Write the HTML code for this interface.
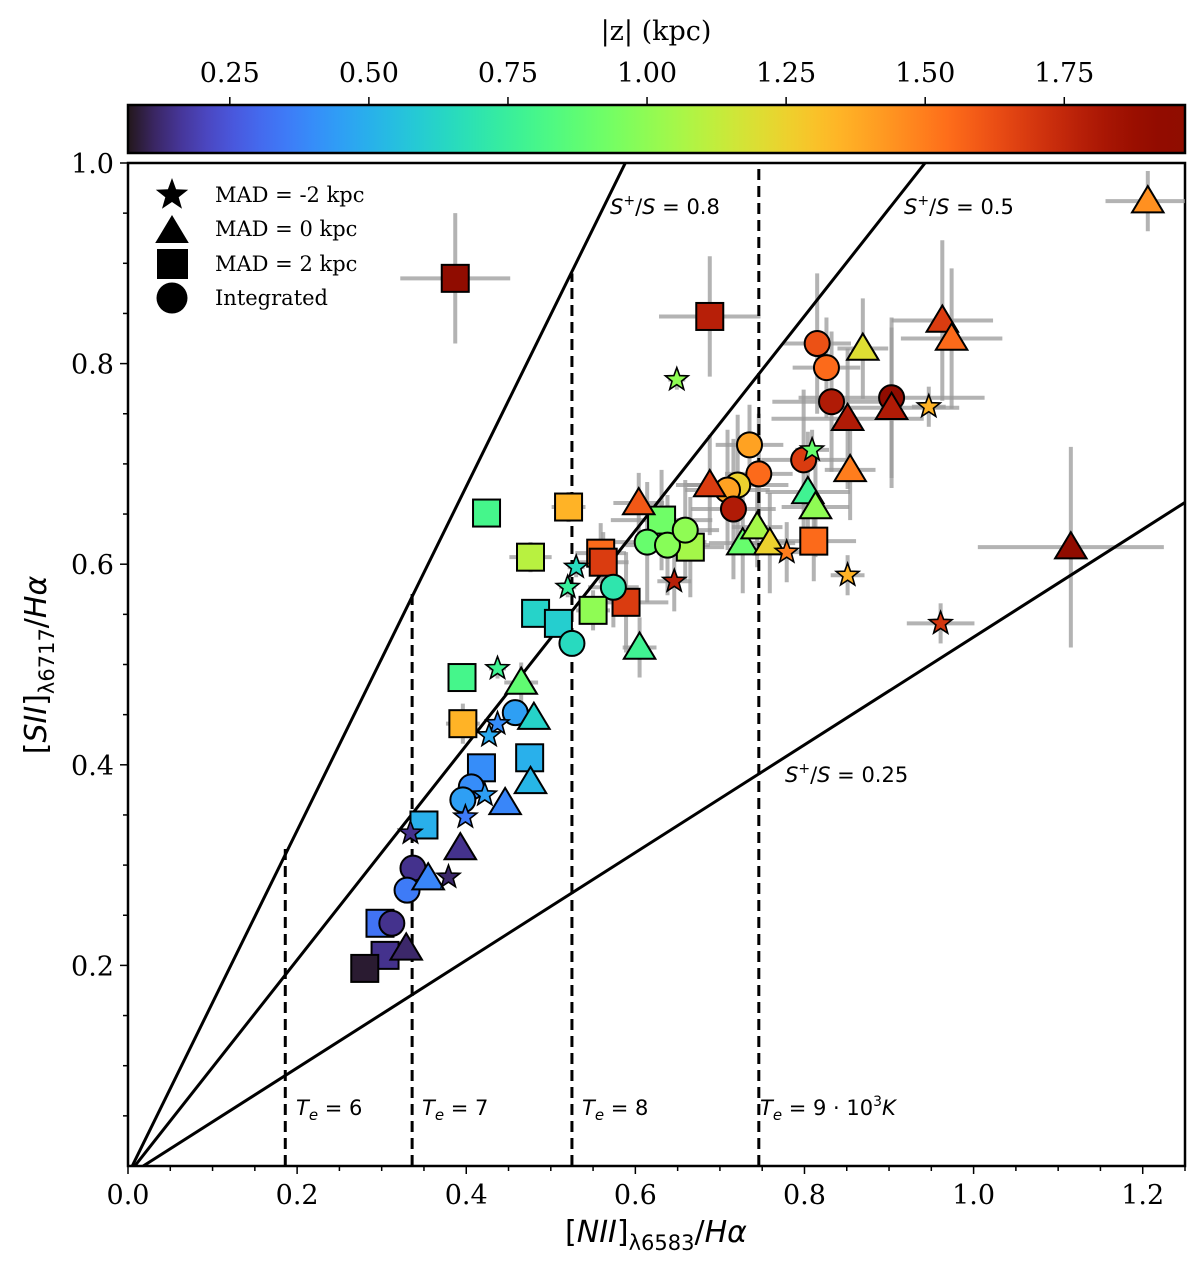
<!DOCTYPE html>
<html><head><meta charset="utf-8">
<style>
html,body{margin:0;padding:0;background:#fff;}
svg{display:block;}
.tk{font-family:"DejaVu Serif","Liberation Serif",serif;font-size:27px;fill:#000;}
.ann{font-family:"DejaVu Sans","Liberation Sans",sans-serif;font-size:21px;fill:#000;}
.leg{font-family:"DejaVu Serif","Liberation Serif",serif;font-size:21px;fill:#000;}
</style></head>
<body>
<svg id="chart" width="1200" height="1262" viewBox="0 0 1200 1262" xmlns="http://www.w3.org/2000/svg">
<defs>
<linearGradient id="turboGrad" x1="0" x2="1" y1="0" y2="0"></linearGradient>
<clipPath id="plotClip"><rect x="128" y="163" width="1057" height="1003"/></clipPath>
</defs>
<g id="colorbar">
<rect x="128" y="105" width="1057" height="48" fill="url(#turboGrad)" stroke="#000" stroke-width="2.5"/>
<text class="tk" x="656" y="40" text-anchor="middle" font-size="30">|z| (kpc)</text>
</g>
<g id="cbticks"></g>
<g id="axes"></g>
<g id="errs" clip-path="url(#plotClip)"></g>
<g id="refLines" clip-path="url(#plotClip)"></g>
<g id="marks"></g>
<g id="labels">
<text class="ann" x="610" y="214"><tspan font-style="italic">S</tspan><tspan font-size="14" dy="-9">+</tspan><tspan dy="9">/</tspan><tspan font-style="italic">S</tspan> = 0.8</text>
<text class="ann" x="904" y="214"><tspan font-style="italic">S</tspan><tspan font-size="14" dy="-9">+</tspan><tspan dy="9">/</tspan><tspan font-style="italic">S</tspan> = 0.5</text>
<text class="ann" x="785" y="782"><tspan font-style="italic">S</tspan><tspan font-size="14" dy="-9">+</tspan><tspan dy="9">/</tspan><tspan font-style="italic">S</tspan> = 0.25</text>
<text class="ann" x="296" y="1115"><tspan font-style="italic">T</tspan><tspan font-style="italic" font-size="15" dy="5">e</tspan><tspan dy="-5"> = 6</tspan></text>
<text class="ann" x="422" y="1115"><tspan font-style="italic">T</tspan><tspan font-style="italic" font-size="15" dy="5">e</tspan><tspan dy="-5"> = 7</tspan></text>
<text class="ann" x="582" y="1115"><tspan font-style="italic">T</tspan><tspan font-style="italic" font-size="15" dy="5">e</tspan><tspan dy="-5"> = 8</tspan></text>
<text class="ann" x="760" y="1115"><tspan font-style="italic">T</tspan><tspan font-style="italic" font-size="15" dy="5">e</tspan><tspan dy="-5"> = 9 · 10</tspan><tspan font-size="14" dy="-9">3</tspan><tspan dy="9" font-style="italic">K</tspan></text>
<text font-family="'DejaVu Sans','Liberation Sans',sans-serif" font-size="30" x="656" y="1242" text-anchor="middle">[<tspan font-style="italic">NII</tspan>]<tspan font-size="21" dy="8">λ6583</tspan><tspan dy="-8">/</tspan><tspan font-style="italic">Hα</tspan></text>
<text font-family="'DejaVu Sans','Liberation Sans',sans-serif" font-size="30" transform="translate(46,665) rotate(-90)" text-anchor="middle">[<tspan font-style="italic">SII</tspan>]<tspan font-size="21" dy="8">λ6717</tspan><tspan dy="-8">/</tspan><tspan font-style="italic">Hα</tspan></text>
</g>
<g id="legend"></g>
</svg>
<script>
// ---- data ----
const zMin = 0.067, zMax = 1.967;
const xTicks = [0.0, 0.2, 0.4, 0.6, 0.8, 1.0, 1.2];
const xTickLabels = ["0.0","0.2","0.4","0.6","0.8","1.0","1.2"];
const yTicks = [0.2, 0.4, 0.6, 0.8, 1.0];
const yTickLabels = ["0.2","0.4","0.6","0.8","1.0"];
const cbTicks = [0.25, 0.5, 0.75, 1.0, 1.25, 1.5, 1.75];
const cbTickLabels = ["0.25","0.50","0.75","1.00","1.25","1.50","1.75"];
const ratioSlopes = [1.715, 1.07, 0.537];
const ratioOffsets = [0.005, 0.008, 0.018];
const teX = [0.186, 0.336, 0.525, 0.746];
const teTop = [0.316, 0.571, 0.89, 1.0];

const sqX = [0.387,0.688,0.424,0.476,0.521,0.559,0.562,0.589,0.550,0.482,0.509,0.631,0.665,0.811,0.395,0.396,0.418,0.475,0.350,0.298,0.304,0.280];
const sqY = [0.885,0.847,0.651,0.607,0.657,0.611,0.602,0.562,0.554,0.551,0.541,0.644,0.617,0.623,0.487,0.441,0.397,0.407,0.340,0.242,0.210,0.197];
const sqZ = [1.95,1.78,0.80,1.10,1.35,1.55,1.68,1.68,1.00,0.62,0.60,0.92,1.05,1.55,0.80,1.35,0.40,0.50,0.50,0.33,0.15,0.08];
const sqXe = [0.065,0.06,0.01,0.025,0.02,0.03,0.03,0.05,0.02,0.01,0.01,0.06,0.04,0.05,0.01,0.02,0.01,0.01,0.01,0.005,0.005,0.005];
const sqYe = [0.065,0.06,0.01,0.015,0.015,0.03,0.03,0.05,0.02,0.01,0.01,0.05,0.05,0.04,0.01,0.02,0.01,0.01,0.01,0.005,0.005,0.005];

const triX = [0.604,0.605,0.688,0.727,0.744,0.759,0.804,0.813,0.854,0.869,0.851,0.903,0.963,0.974,1.206,1.115,0.465,0.480,0.476,0.446,0.393,0.355,0.329];
const triY = [0.661,0.517,0.679,0.621,0.637,0.621,0.672,0.657,0.694,0.815,0.745,0.756,0.843,0.825,0.962,0.617,0.482,0.447,0.383,0.362,0.317,0.287,0.217];
const triZ = [1.60,0.78,1.68,0.90,1.05,1.25,0.78,1.00,1.50,1.20,1.80,1.80,1.68,1.55,1.45,1.95,0.88,0.62,0.52,0.38,0.15,0.38,0.12];
const triXe = [0.03,0.02,0.04,0.04,0.03,0.03,0.05,0.04,0.03,0.03,0.09,0.08,0.06,0.06,0.05,0.11,0.02,0.01,0.01,0.01,0.005,0.005,0.005];
const triYe = [0.03,0.03,0.05,0.05,0.04,0.05,0.06,0.05,0.05,0.05,0.07,0.08,0.08,0.07,0.03,0.1,0.02,0.01,0.01,0.01,0.005,0.005,0.005];

const cirX = [0.735,0.746,0.721,0.709,0.716,0.799,0.815,0.826,0.832,0.903,0.614,0.638,0.659,0.574,0.525,0.458,0.406,0.396,0.337,0.330,0.312];
const cirY = [0.719,0.690,0.679,0.674,0.655,0.704,0.820,0.796,0.762,0.766,0.622,0.619,0.634,0.577,0.521,0.452,0.378,0.365,0.297,0.275,0.242];
const cirZ = [1.40,1.55,1.25,1.40,1.80,1.68,1.62,1.55,1.80,1.95,0.90,0.98,1.00,0.70,0.65,0.45,0.40,0.45,0.15,0.35,0.15];
const cirXe = [0.04,0.04,0.06,0.05,0.05,0.05,0.04,0.04,0.07,0.11,0.07,0.05,0.04,0.03,0.01,0.01,0.01,0.01,0.005,0.005,0.005];
const cirYe = [0.04,0.06,0.07,0.06,0.07,0.07,0.07,0.05,0.07,0.08,0.06,0.05,0.05,0.04,0.01,0.01,0.01,0.01,0.005,0.005,0.005];

const stX = [0.649,0.530,0.520,0.646,0.779,0.851,0.809,0.947,0.961,0.437,0.437,0.427,0.422,0.399,0.379,0.334];
const stY = [0.784,0.597,0.577,0.583,0.612,0.589,0.714,0.757,0.541,0.496,0.441,0.429,0.370,0.348,0.288,0.332];
const stZ = [1.00,0.65,0.75,1.78,1.50,1.35,0.90,1.35,1.70,0.78,0.40,0.48,0.45,0.35,0.12,0.15];
const stXe = [0.01,0.01,0.01,0.02,0.02,0.02,0.02,0.02,0.04,0.01,0.005,0.005,0.005,0.005,0.005,0.005];
const stYe = [0.01,0.01,0.01,0.03,0.03,0.02,0.02,0.02,0.02,0.01,0.005,0.005,0.005,0.005,0.005,0.005];

const legendLabels = ["MAD = -2 kpc","MAD = 0 kpc","MAD = 2 kpc","Integrated"];

// ---- scales ----
const X0 = 128, X1 = 1185, Y0 = 1166, Y1 = 163;
const xMin = 0, xMax = 1.25, yMin = 0, yMax = 1.0;
function sx(v){ return X0 + (v - xMin) / (xMax - xMin) * (X1 - X0); }
function sy(v){ return Y0 - (v - yMin) / (yMax - yMin) * (Y0 - Y1); }
function sz(v){ return X0 + (v - zMin) / (zMax - zMin) * (X1 - X0); }
function turbo(t){
  t = Math.max(0, Math.min(1, t));
  const r = 0.13572138 + t*(4.61539260 + t*(-42.66032258 + t*(132.13108234 + t*(-152.94239396 + t*59.28637943))));
  const g = 0.09140261 + t*(2.19418839 + t*(4.84296658 + t*(-14.18503333 + t*(4.27729857 + t*2.82956604))));
  const b = 0.10667330 + t*(12.64194608 + t*(-60.58204836 + t*(110.36276771 + t*(-89.90310912 + t*27.34824973))));
  const c = v => Math.round(Math.max(0, Math.min(1, v)) * 255);
  return `rgb(${c(r)},${c(g)},${c(b)})`;
}
function zc(z){ return turbo((z - zMin) / (zMax - zMin)); }
const NS = "http://www.w3.org/2000/svg";
function mk(tag, attrs, parent){
  const e = document.createElementNS(NS, tag);
  for (const k in attrs) e.setAttribute(k, attrs[k]);
  parent.appendChild(e);
  return e;
}

// gradient
const grad = document.getElementById('turboGrad');
for (let i = 0; i <= 40; i++){ mk('stop', {offset: (i/40), 'stop-color': turbo(i/40)}, grad); }

// colorbar ticks
const cbg = document.getElementById('cbticks');
cbTicks.forEach((v, i) => {
  const x = sz(v);
  const t = mk('line', {x1:x, x2:x, y1:105, y2:97, stroke:'#000', 'stroke-width':1.5}, cbg);
  
  
  const l = mk('text', {x:x, y:82, 'text-anchor':'middle', class:'tk'}, cbg);
  l.textContent = cbTickLabels[i];
  
  
});

// axes
const ax = document.getElementById('axes');
const frame = mk('rect', {x:X0, y:Y1, width:X1-X0, height:Y0-Y1, fill:'none', stroke:'#000', 'stroke-width':2.5}, ax);


for (let v = 0; v <= 1.2501; v += 0.05){
  const x = sx(v);
  const major = Math.abs(v/0.2 - Math.round(v/0.2)) < 1e-6;
  const t = mk('line', {x1:x, x2:x, y1:Y0, y2:Y0 + (major ? 8 : 5), stroke:'#000', 'stroke-width':1.5}, ax);
  
  
}
xTicks.forEach((v, i) => {
  const l = mk('text', {x:sx(v), y:1204, 'text-anchor':'middle', class:'tk'}, ax);
  l.textContent = xTickLabels[i];
  
  
});
for (let v = 0.05; v <= 1.0001; v += 0.05){
  const y = sy(v);
  const major = Math.abs(v/0.2 - Math.round(v/0.2)) < 1e-6;
  const t = mk('line', {x1:X0, x2:X0 - (major ? 8 : 5), y1:y, y2:y, stroke:'#000', 'stroke-width':1.5}, ax);
  
  
}
yTicks.forEach((v, i) => {
  const l = mk('text', {x:114, y:sy(v) + 10, 'text-anchor':'end', class:'tk'}, ax);
  l.textContent = yTickLabels[i];
  
  
});

// reference lines
const rl = document.getElementById('refLines');
ratioSlopes.forEach((s, i) => {
  const x0 = ratioOffsets[i], x1 = 1.3;
  const ln = mk('line', {x1:sx(x0), y1:sy(0), x2:sx(x1), y2:sy(s*(x1-x0)), stroke:'#000', 'stroke-width':3}, rl);
  
  
});
teX.forEach((v, i) => {
  const ln = mk('line', {x1:sx(v), x2:sx(v), y1:sy(0), y2:sy(teTop[i]), stroke:'#000', 'stroke-width':3, 'stroke-dasharray':'11,6'}, rl);
  
  
});

// error bars
const eg = document.getElementById('errs');
function errs(xs, ys, xe, ye){
  xs.forEach((x, i) => {
    const a = mk('line', {x1:sx(x - xe[i]), x2:sx(x + xe[i]), y1:sy(ys[i]), y2:sy(ys[i]), stroke:'#999', 'stroke-width':4, 'stroke-opacity':0.75}, eg);
    
    
    const b = mk('line', {x1:sx(x), x2:sx(x), y1:sy(ys[i] - ye[i]), y2:sy(ys[i] + ye[i]), stroke:'#999', 'stroke-width':4, 'stroke-opacity':0.75}, eg);
    
    
  });
}
errs(sqX, sqY, sqXe, sqYe);
errs(triX, triY, triXe, triYe);
errs(cirX, cirY, cirXe, cirYe);
errs(stX, stY, stXe, stYe);

// markers
function starPts(cx, cy, R, r){
  let p = [];
  for (let k = 0; k < 10; k++){
    const a = -Math.PI/2 + k*Math.PI/5;
    const rr = k % 2 ? r : R;
    p.push((cx + rr*Math.cos(a)).toFixed(1) + ',' + (cy + rr*Math.sin(a)).toFixed(1));
  }
  return p.join(' ');
}
function triPts(cx, cy, s){
  return `${cx},${cy - s} ${cx - s*1.05},${cy + s*0.75} ${cx + s*1.05},${cy + s*0.75}`;
}
const mg = document.getElementById('marks');
sqX.forEach((x, i) => {
  const cx = sx(x), cy = sy(sqY[i]);
  const e = mk('rect', {x:cx - 13.5, y:cy - 13.5, width:27, height:27, fill:zc(sqZ[i]), stroke:'#000', 'stroke-width':2}, mg);
  
  
});
cirX.forEach((x, i) => {
  const e = mk('circle', {cx:sx(x), cy:sy(cirY[i]), r:12.5, fill:zc(cirZ[i]), stroke:'#000', 'stroke-width':2}, mg);
  
  
});
triX.forEach((x, i) => {
  const e = mk('polygon', {points:triPts(sx(x), sy(triY[i]), 15), fill:zc(triZ[i]), stroke:'#000', 'stroke-width':2}, mg);
  
  
});
stX.forEach((x, i) => {
  const e = mk('polygon', {points:starPts(sx(x), sy(stY[i]), 12, 5), fill:zc(stZ[i]), stroke:'#000', 'stroke-width':1.6}, mg);
  
  
});

// legend
const lg = document.getElementById('legend');
const ly = [195, 229, 264, 298];
const s0 = mk('polygon', {points:starPts(172, ly[0], 17, 7), fill:'#000'}, lg);


const s1 = mk('polygon', {points:triPts(172, ly[1] + 2, 16), fill:'#000'}, lg);


const s2 = mk('rect', {x:157, y:ly[2] - 15, width:31, height:30, fill:'#000'}, lg);


const s3 = mk('circle', {cx:172, cy:ly[3], r:15.5, fill:'#000'}, lg);


legendLabels.forEach((t, i) => {
  const l = mk('text', {x:215, y:ly[i] + 7, class:'leg'}, lg);
  l.textContent = t;
  
  
});
</script>
</body></html>
